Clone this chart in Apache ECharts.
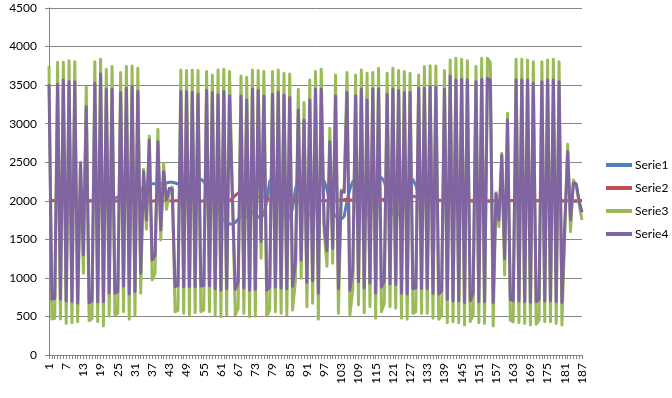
<!DOCTYPE html>
<html>
<head>
<meta charset="utf-8">
<script src="https://cdn.jsdelivr.net/npm/echarts@6/dist/echarts.min.js"></script>
<style>
  html, body { margin: 0; padding: 0; background: #fff; }
  #chart { width: 672px; height: 398px; }
</style>
</head>
<body>
<div id="chart"></div>
<script>
// x categories 1..187, y ticks 0..4500
const categories = Array.from({ length: 187 }, (_, k) => String(k + 1));
const yTicks = [0, 500, 1000, 1500, 2000, 2500, 3000, 3500, 4000, 4500];
const seriesNames = ['Serie1', 'Serie2', 'Serie3', 'Serie4'];

// Serie1 (blue) - wave around 2000, only visible in the middle part
const serie1 = [
  2000,2005,2005,2000,1995,2000,2005,2005,2000,1995,
  2000,2005,2005,2000,1995,2000,2005,2005,2000,1995,
  2000,2005,2010,2030,2050,2040,2010,1990,1980,1975,
  2000,2050,2120,2180,2210,2220,2220,2220,2220,2220,
  2220,2230,2240,2240,2230,2220,2200,2180,2170,2190,
  2230,2260,2280,2280,2250,2190,2110,2020,1940,1870,
  1800,1750,1720,1700,1700,1720,1760,1790,1800,1790,
  1800,1850,1830,1790,1780,1830,2000,2250,2300,2200,
  2050,1900,1800,1780,1775,1900,2150,2300,2250,2100,
  1900,1810,1820,1950,2120,2250,2260,2150,1980,1850,
  1800,1780,1760,1800,2000,2150,2250,2280,2200,2050,
  1900,1810,1830,1950,2120,2250,2300,2250,2100,1950,
  1830,1790,1820,1950,2100,2220,2270,2275,2200,2080,
  2000,1950,1930,1960,2000,2015,2010,2005,2000,1995,
  2000,2005,2005,2000,1995,2000,2005,2005,2000,1995,
  2000,2005,2005,2000,1995,2000,2005,2005,2000,1995,
  2000,2005,2005,2000,1995,2000,2005,2005,2000,1995,
  2000,2005,2005,2000,1995,2000,2005,2005,2000,1995,
  2000,2005,2005,2000,1995,2000,2005
];

// Serie2 (red) - almost flat at 2000
const serie2 = [
  2000,2005,2000,1995,2000,2005,2000,2000,1995,2000,
  2005,2000,2000,1995,2000,2005,2000,2000,1995,2000,
  2000,2005,2000,1995,2000,2000,2005,2000,1995,2000,
  2000,2005,2000,1995,1990,1990,1995,2000,2005,2000,
  2000,2005,2000,1995,2000,2000,2005,2000,1995,2000,
  2000,2005,2000,1995,2000,2000,2005,2000,1995,2000,
  1995,1990,1995,2000,2030,2070,2100,2120,2120,2110,
  2090,2070,2060,2050,2050,2040,2030,2020,2020,2010,
  2010,2005,2000,2000,2005,2010,2010,2005,2000,2000,
  2000,2005,2010,2005,2000,2000,2005,2000,1995,2000,
  2000,2005,2010,2015,2015,2010,2010,2005,2000,2000,
  2005,2010,2010,2015,2020,2020,2020,2015,2010,2010,
  2010,2020,2030,2045,2055,2060,2060,2060,2050,2040,
  2030,2020,2010,2005,2000,2000,2005,2000,1995,2000,
  2000,2005,2000,1995,2000,2000,2005,2000,1995,2000,
  2000,2005,2000,1995,2000,2000,2005,2000,1995,2000,
  2000,2005,2000,1995,2000,2000,2005,2000,1995,2000,
  2000,2005,2000,1995,2000,2000,2005,2000,1995,2000,
  2000,2005,2000,1995,2000,2000,2005
];

// Serie3 (green) - large swings
const serie3 = [
  3750,467,476,3796,467,3796,410,3817,419,3804,
  432,2500,1059,3480,445,470,3804,432,3835,376,
  3705,506,3740,519,540,3662,562,3740,463,3748,
  519,3718,800,2408,1630,2840,973,1060,2927,1492,
  2486,1889,2097,2180,562,580,3697,540,3688,506,
  3697,549,3688,562,583,3675,562,3632,519,3697,
  497,3705,519,3675,2100,519,600,3619,540,3602,
  497,3697,506,3688,1254,3675,506,583,3675,562,
  3697,540,3654,519,3645,583,970,3445,994,3273,
  627,3567,670,3675,463,3705,1600,1150,2940,1189,
  3632,540,2140,2118,3662,519,843,3632,649,3697,
  549,3654,627,3662,476,3718,562,670,3654,627,
  3718,605,3688,476,3675,463,3654,540,562,3632,
  540,3740,540,3752,476,3748,463,519,3688,419,
  3826,432,3848,419,3835,389,3817,432,519,3740,
  419,3848,410,3848,3792,376,2105,1665,2616,1037,
  3135,450,430,3835,420,3835,410,3826,390,3804,
  400,450,3804,430,3826,430,3835,410,3804,390,
  1600,2733,1600,2270,2205,1950,1750
];

// Serie4 (purple) - follows Serie3 with a bit less swing
const serie4 = [
  3510,722,735,3510,722,3567,700,3545,692,3545,
  670,2486,1297,3221,679,700,3523,690,3645,690,
  3446,800,3446,800,820,3403,895,3459,790,3480,
  820,3416,1059,2378,1750,2789,1232,1300,2767,1621,
  2378,2010,2162,2150,886,900,3416,886,3416,886,
  3403,886,3381,895,900,3430,895,3403,860,3373,
  840,3416,860,3360,2050,850,950,3360,870,3307,
  840,3446,850,3430,1470,3360,840,880,3381,880,
  3403,870,3368,860,3338,890,1200,3178,1230,3048,
  940,3307,960,3446,800,3446,1700,1350,2767,1383,
  3360,860,2120,2110,3403,840,1100,3360,950,3446,
  870,3307,930,3446,800,3446,880,960,3381,920,
  3446,910,3430,800,3403,790,3403,860,870,3459,
  860,3459,860,3480,800,3472,790,830,3446,720,
  3619,700,3567,700,3575,680,3567,700,800,3545,
  690,3575,690,3588,3567,680,2090,1750,2590,1250,
  3050,720,700,3567,700,3567,690,3567,680,3523,
  690,720,3545,700,3567,700,3567,690,3545,680,
  1700,2637,1751,2227,2217,2000,1850
];

const colors = ['#4F81BD', '#C0504D', '#9BBB59', '#8064A2'];
const allData = [serie1, serie2, serie3, serie4];
const fontFamily = 'Lato, "Liberation Sans", sans-serif';

const chart = echarts.init(document.getElementById('chart'), null, { renderer: 'canvas' });

const option = {
  animation: false,
  backgroundColor: '#ffffff',
  color: colors,
  grid: {
    left: 49,
    right: 90,
    top: 8,
    bottom: 43,
    containLabel: false
  },
  legend: {
    orient: 'vertical',
    left: 601,
    top: 154,
    itemWidth: 26,
    itemHeight: 4,
    itemGap: 11,
    icon: 'rect',
    data: seriesNames,
    textStyle: {
      fontFamily: fontFamily,
      fontSize: 12,
      color: '#000',
      padding: [0, 0, 0, -2]
    }
  },
  xAxis: {
    type: 'category',
    data: categories,
    boundaryGap: false,
    axisLine: { show: true, lineStyle: { color: '#868686', width: 1 } },
    axisTick: { show: true, interval: 0, length: 4, lineStyle: { color: '#868686' } },
    axisLabel: {
      interval: 5,
      rotate: 90,
      margin: 8,
      fontFamily: fontFamily,
      fontSize: 12,
      color: '#000'
    },
    splitLine: { show: false }
  },
  yAxis: {
    type: 'value',
    min: yTicks[0],
    max: yTicks[yTicks.length - 1],
    interval: 500,
    axisLine: { show: true, lineStyle: { color: '#868686', width: 1 } },
    axisTick: { show: true, length: 4, lineStyle: { color: '#868686' } },
    axisLabel: {
      margin: 12,
      fontFamily: fontFamily,
      fontSize: 12,
      color: '#000',
      formatter: (v) => String(v)
    },
    splitLine: { show: true, lineStyle: { color: '#868686', width: 1 } }
  },
  series: seriesNames.map((name, k) => ({
    name: name,
    type: 'line',
    data: allData[k],
    symbol: 'none',
    showSymbol: false,
    smooth: false,
    lineStyle: { width: 3, color: colors[k], join: 'round' },
    itemStyle: { color: colors[k] },
    emphasis: { disabled: true }
  }))
};

chart.setOption(option);
</script>
</body>
</html>
